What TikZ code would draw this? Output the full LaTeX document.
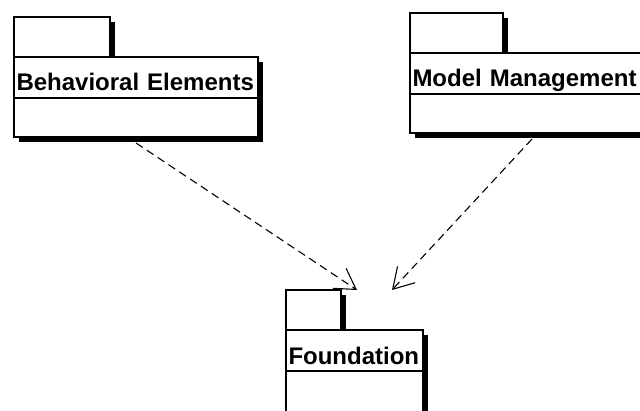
\documentclass[tikz,border=0pt]{standalone}
\usepackage{fontspec}
\setmainfont{Liberation Sans}
\usetikzlibrary{positioning,shadows,arrows.meta}

\begin{document}
\begin{tikzpicture}[x=1pt, y=1pt,
      every node/.style = {shape=rectangle, draw, line width=1.2pt,
        fill=white, outer sep=0pt, inner sep=0pt,
        general shadow={fill=black, shadow xshift=5pt, shadow yshift=-5pt}},
      pkgtab/.style = {minimum width=#1, minimum height=40pt},
      pkghead/.style = {minimum width=#1, text width=#1-5pt, align=left,
        inner xsep=2.5pt, text height=34pt, text depth=7pt,
        font=\bfseries\fontsize{24}{26}\selectfont},
      pkgbody/.style = {minimum width=#1, minimum height=39pt},
      dep/.style = {line width=1.1pt, dash pattern=on 8pt off 5pt,
        -{Straight Barb[length=20pt, width=24pt]}}]
    \useasboundingbox (0,0) rectangle (640,410);

    % packages: tab, name compartment, empty compartment
    \node[pkgtab=96pt, anchor=north west] (behtab) at (14,393) {};
    \node[pkghead=244pt, below right=0pt of behtab.south west] (behhead) {Behavioral Elements};
    \node[pkgbody=244pt, below=0pt of behhead] (behbody) {};

    \node[pkgtab=93pt, anchor=north west] (mmtab) at (410,397) {};
    \node[pkghead=240pt, below right=0pt of mmtab.south west] (mmhead) {Model Management};
    \node[pkgbody=240pt, below=0pt of mmhead] (mmbody) {};

    \node[pkgtab=55pt, anchor=north west] (foundtab) at (286,120) {};
    \node[pkghead=137pt, below right=0pt of foundtab.south west] (foundhead) {Foundation};
    \node[pkgbody=137pt, minimum height=45pt, below=0pt of foundhead] (foundbody) {};

    % dependencies
    \coordinate (tipa) at ([xshift=16pt]foundtab.north east);
    \coordinate (tipb) at ([xshift=51pt]foundtab.north east);
    \draw[dep] ([yshift=-6pt]behbody.south) -- (tipa);
    \draw[dep] ([xshift=2pt,yshift=-6pt]mmbody.south) -- (tipb);
\end{tikzpicture}
\end{document}
